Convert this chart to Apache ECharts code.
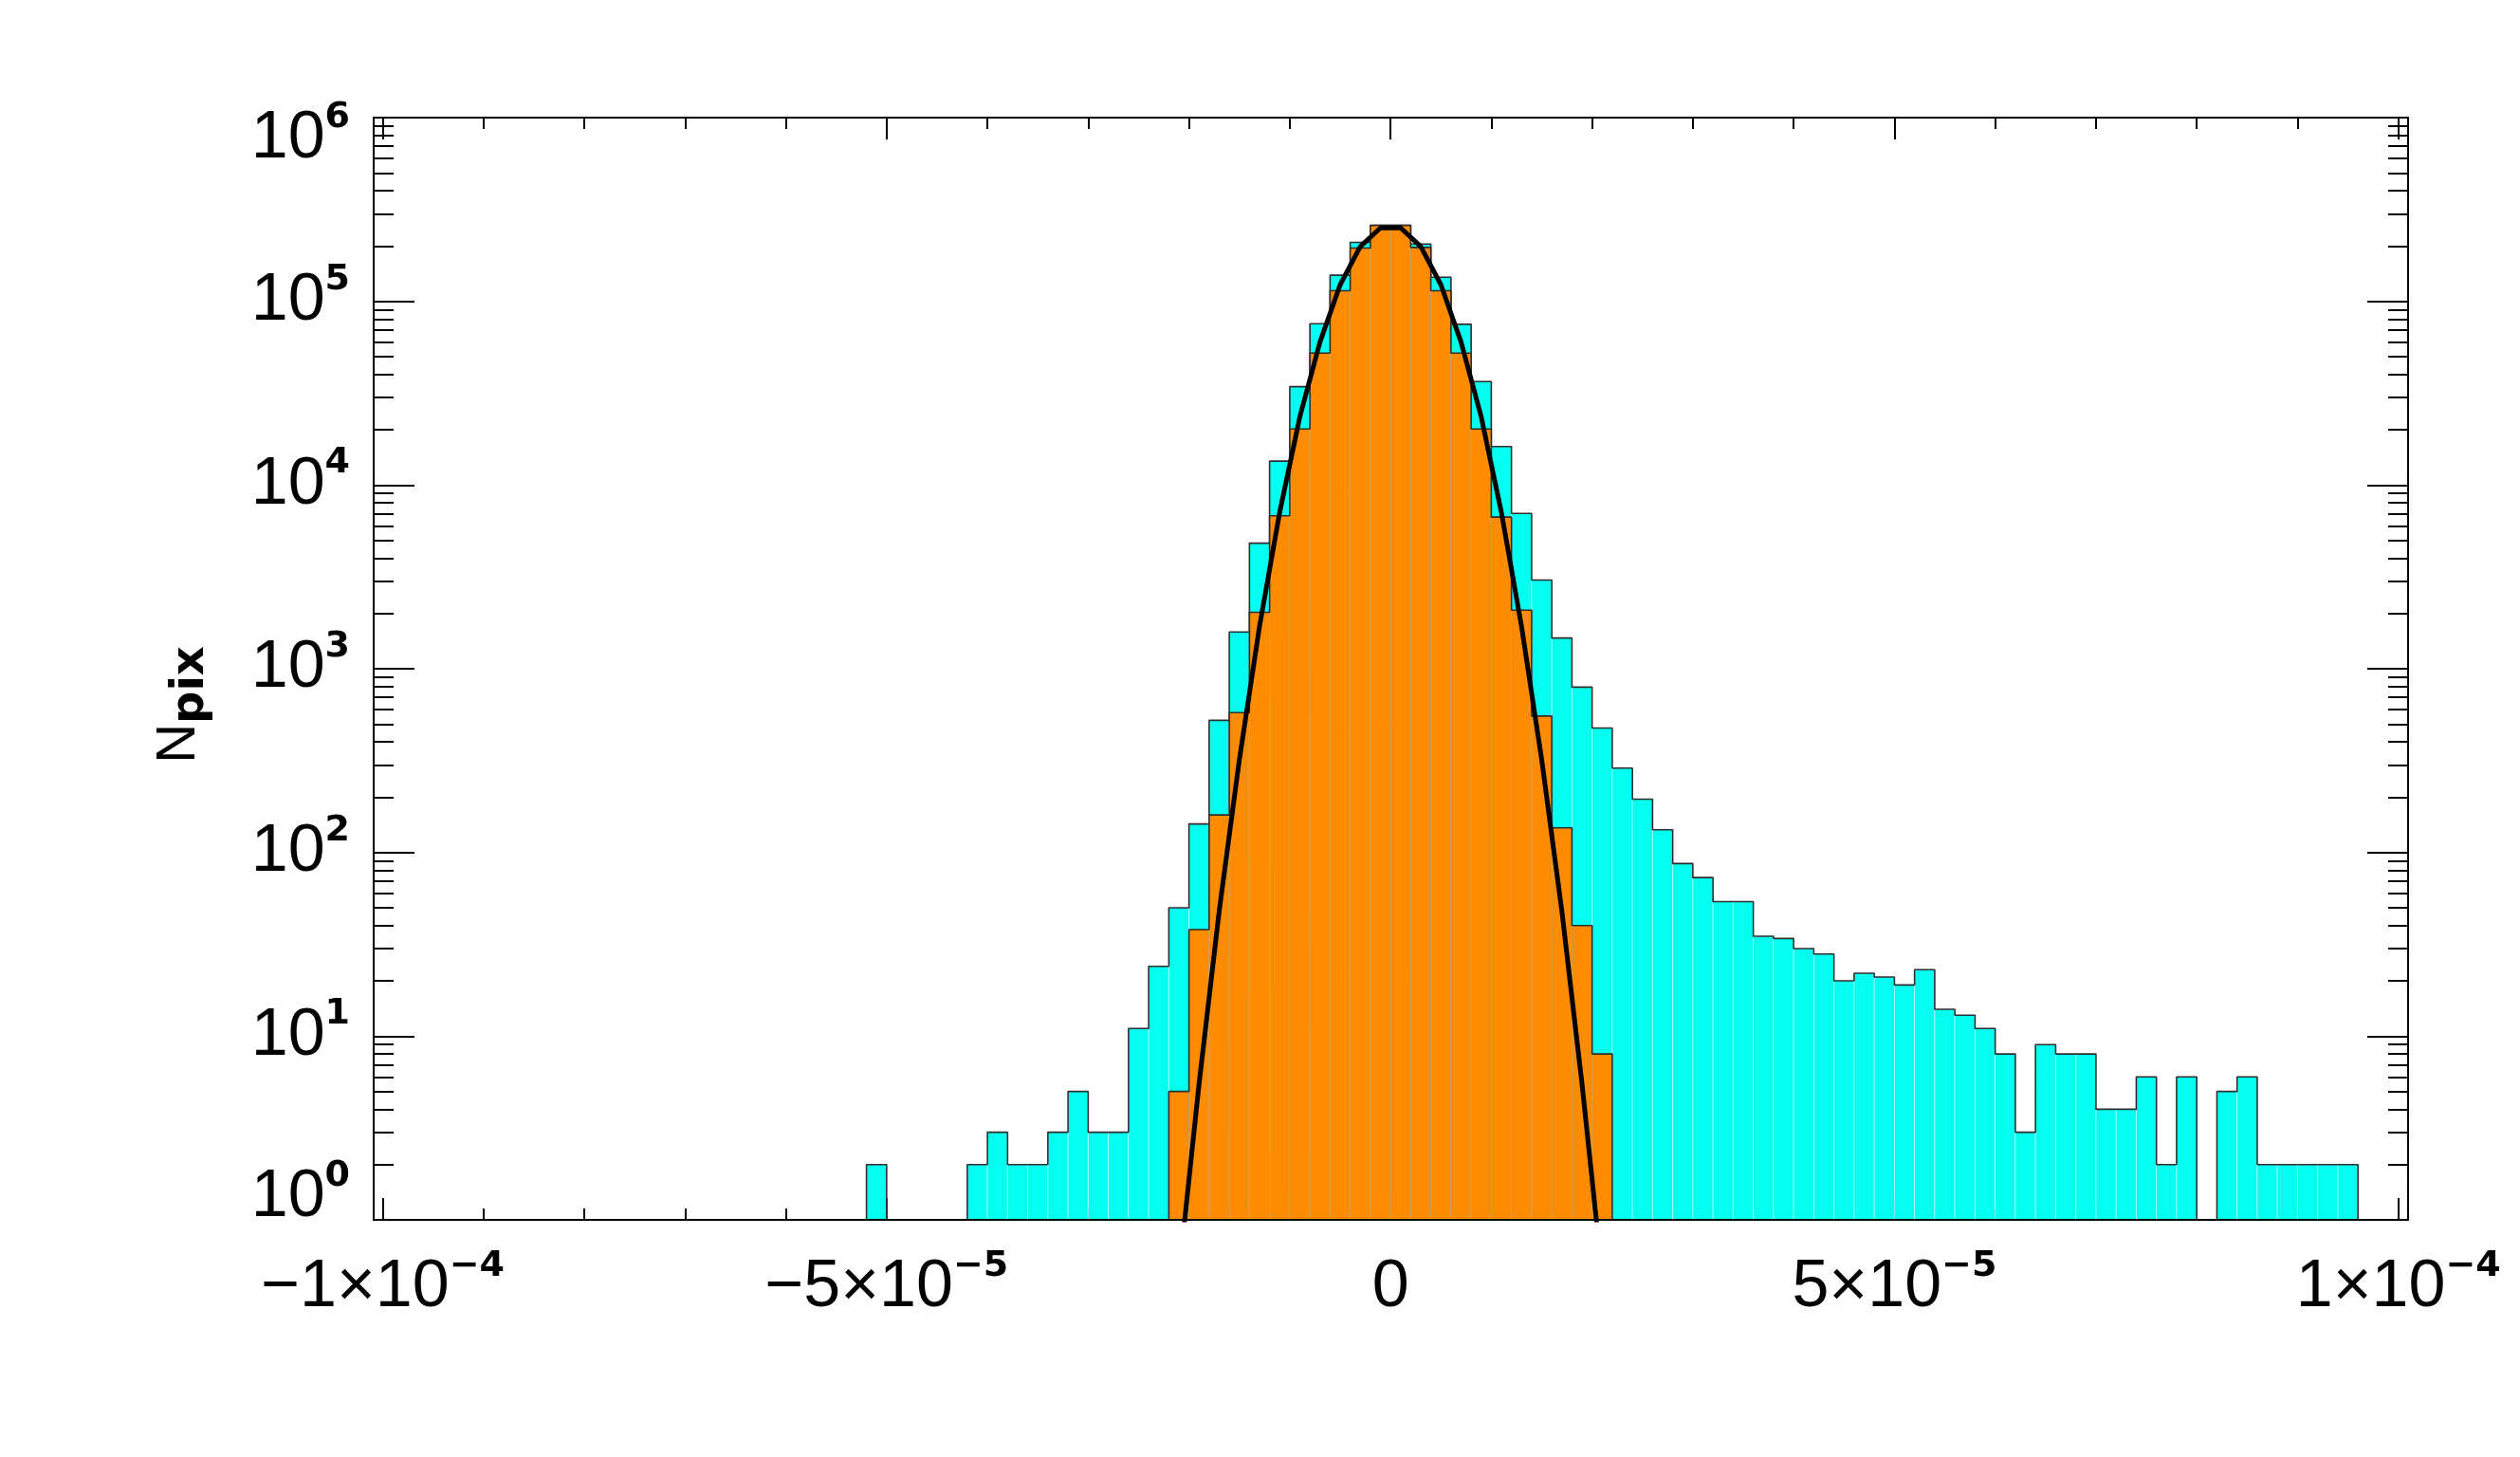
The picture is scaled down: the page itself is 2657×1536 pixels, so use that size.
<!DOCTYPE html>
<html>
<head>
<meta charset="utf-8">
<script src="https://cdn.jsdelivr.net/npm/echarts@6/dist/echarts.min.js"></script>
<style>
html, body { margin: 0; padding: 0; background: #ffffff; }
#chart { width: 2657px; height: 1536px; }
</style>
</head>
<body>
<div id="chart"></div>
<script>
// ---------------- data ----------------
const binWidth = 2e-6;

// cyan histogram: first bin starts at -5.2e-5, bins of 2e-6
const cyanStart = -5.2e-5;
const cyanCounts = [
  2, 0, 0, 0, 0, 2, 3, 2, 2, 3,
  5, 3, 3, 11, 24, 50, 143, 524, 1585, 4827,
  13490, 34300, 75500, 138700, 209300, 259000, 259000, 205000, 135300, 75000,
  36600, 16200, 7010, 3040, 1470, 794, 476, 288, 195, 133,
  87, 73, 54, 54, 35, 34, 30, 28, 20, 22,
  21, 19, 23, 14, 13, 11, 8, 3, 9, 8,
  8, 4, 4, 6, 2, 6, 0, 5, 6, 2,
  2, 2, 2, 2
];

// orange histogram: first bin starts at -2.2e-5
const orangeStart = -2.2e-5;
const orangeCounts = [
  5, 38, 160, 577, 2028, 6805, 20200, 52300, 114100, 195000,
  259000, 259000, 196500, 114100, 52300, 20200, 6690, 2083, 553, 136,
  40, 8
];

// black fitted curve, sampled at bin centres
const fitX = [-21e-6, -19e-6, -17e-6, -15e-6, -13e-6, -11e-6, -9e-6, -7e-6, -5e-6, -3e-6, -1e-6,
              1e-6, 3e-6, 5e-6, 7e-6, 9e-6, 11e-6, 13e-6, 15e-6, 17e-6, 19e-6, 21e-6];
const fitY = [0.5, 5.5, 48, 320, 1700, 7100, 23500, 60000, 123000, 199000, 251000,
              251000, 199000, 123000, 60000, 23500, 7100, 1700, 320, 48, 5.5, 0.5];

// axes
const xRange = [-1.009e-4, 1.0097e-4];
const yRange = [1, 1e6];
const xMajorTicks = [-1e-4, -5e-5, 0, 5e-5, 1e-4];
const xMinorTicks = [-9e-5, -8e-5, -7e-5, -6e-5, -4e-5, -3e-5, -2e-5, -1e-5,
                     1e-5, 2e-5, 3e-5, 4e-5, 6e-5, 7e-5, 8e-5, 9e-5];
const yDecadeExponents = [0, 1, 2, 3, 4, 5, 6];
const yTitle = ['N', 'pix'];

// ---------------- build ----------------
const FONT = "'Liberation Sans', Arial, Helvetica, sans-serif";
const SUPFONT = "'DejaVu Sans', 'Liberation Sans', sans-serif";
const CYAN = '#04FFF1';
const ORANGE = '#FF8C00';
const OUTLINE = '#2e2e2e';

// minor ticks of the log axis expressed in log10 units (helper linear axis)
const yMinorLog = [];
for (let d = yDecadeExponents[0]; d < yDecadeExponents[yDecadeExponents.length - 1]; d++) {
  for (let k = 2; k <= 9; k++) yMinorLog.push(d + Math.log10(k));
}

function histData(start, counts) {
  const out = [];
  counts.forEach(function (n, i) {
    if (n > 0) {
      const lo = start + i * binWidth;
      out.push([lo, lo + binWidth, n]);
    }
  });
  return out;
}

function outlineData(start, counts) {
  const pts = [[start, yRange[0]]];
  counts.forEach(function (n, i) {
    const lo = start + i * binWidth;
    const v = Math.max(n, yRange[0]);
    pts.push([lo, v], [lo + binWidth, v]);
  });
  pts.push([start + counts.length * binWidth, yRange[0]]);
  return pts;
}

function makeRender(fill, seam) {
  return function (params, api) {
    const lo = api.value(0), hi = api.value(1), n = api.value(2);
    const p0 = api.coord([lo, n]);
    const p1 = api.coord([hi, yRange[0]]);
    return {
      type: 'rect',
      shape: { x: p0[0], y: p0[1], width: p1[0] - p0[0], height: p1[1] - p0[1] },
      style: { fill: fill, stroke: seam, lineWidth: 1 }
    };
  };
}

function fmtX(v) {
  if (Math.abs(v) < 1e-12) return '{m|0}';
  const exp = Math.floor(Math.log10(Math.abs(v)) + 1e-9);
  const mant = Math.round(v / Math.pow(10, exp));
  return '{m|' + (mant < 0 ? '\u2212' : '') + Math.abs(mant) + '\u00d710}{e|\u2212' + Math.abs(exp) + '}';
}
// end labels of the y axis sit inside the axis range, as in the reference
function fmtY(v) {
  const exp = Math.round(Math.log10(v));
  const lo = Math.round(Math.log10(yRange[0])), hi = Math.round(Math.log10(yRange[1]));
  const lab = '{b|10}{e|' + exp + '}';
  if (exp === lo) return lab + '\n{g| }';
  if (exp === hi) return '{g| }\n' + lab;
  return lab;
}

const MAIN = { fontFamily: FONT, fontSize: 70, lineHeight: 84, color: '#000' };
const SUP = { fontFamily: SUPFONT, fontSize: 38, fontWeight: 'bold', lineHeight: 40, color: '#000' };
const supRich = {
  m: Object.assign({}, MAIN, { verticalAlign: 'middle' }),
  b: Object.assign({}, MAIN, { verticalAlign: 'middle' }),
  e: Object.assign({}, SUP, { verticalAlign: 'top' }),
  g: { fontSize: 10, lineHeight: 46 }
};

const lineStyle = { color: '#000', width: 2 };
const tickStyle = { color: '#000', width: 2 };

function xAxisBase(pos) {
  return {
    type: 'value', min: xRange[0], max: xRange[1], position: pos,
    axisLine: { show: false, onZero: false },
    axisTick: { show: false },
    axisLabel: { show: false },
    splitLine: { show: false }
  };
}
function yHelperBase(pos) {
  return {
    type: 'value', min: Math.log10(yRange[0]), max: Math.log10(yRange[1]), position: pos,
    axisLine: { show: false, onZero: false },
    axisTick: { show: true, inside: true, length: 21, customValues: yMinorLog, lineStyle: tickStyle },
    axisLabel: { show: false },
    splitLine: { show: false }
  };
}

const xAxes = [];
// 0: bottom frame line (data axis), drawn above bars
xAxes.push(Object.assign(xAxisBase('bottom'), {
  axisLine: { show: true, onZero: false, lineStyle: lineStyle }, z: 10
}));
// 1: bottom major ticks + labels
xAxes.push(Object.assign(xAxisBase('bottom'), {
  axisTick: { show: true, inside: true, length: 23, customValues: xMajorTicks, lineStyle: tickStyle },
  axisLabel: { show: true, customValues: xMajorTicks, formatter: fmtX, rich: supRich, margin: 30,
               showMinLabel: true, showMaxLabel: true }
}));
// 2: bottom minor ticks
xAxes.push(Object.assign(xAxisBase('bottom'), {
  axisTick: { show: true, inside: true, length: 12, customValues: xMinorTicks, lineStyle: tickStyle }
}));
// 3: top frame line + major ticks
xAxes.push(Object.assign(xAxisBase('top'), {
  axisLine: { show: true, onZero: false, lineStyle: lineStyle },
  axisTick: { show: true, inside: true, length: 23, customValues: xMajorTicks, lineStyle: tickStyle }
}));
// 4: top minor ticks
xAxes.push(Object.assign(xAxisBase('top'), {
  axisTick: { show: true, inside: true, length: 12, customValues: xMinorTicks, lineStyle: tickStyle }
}));

const yAxes = [
  {
    type: 'log', logBase: 10, min: yRange[0], max: yRange[1], position: 'left',
    axisLine: { show: true, onZero: false, lineStyle: lineStyle },
    axisTick: { show: true, inside: true, length: 43, lineStyle: tickStyle },
    minorTick: { show: false },
    axisLabel: { show: true, formatter: fmtY, rich: supRich, margin: 25, showMinLabel: true, showMaxLabel: true },
    splitLine: { show: false },
    name: '{n|' + yTitle[0] + '}{s|' + yTitle[1] + '}',
    nameLocation: 'middle',
    nameRotate: 90,
    nameGap: 168,
    nameTextStyle: {
      padding: [0, 76, 0, 0],
      rich: {
        n: { fontFamily: FONT, fontSize: 58, lineHeight: 58, padding: [0, 0, 8, 0], color: '#000', verticalAlign: 'bottom' },
        s: { fontFamily: SUPFONT, fontSize: 48, fontWeight: 'bold', lineHeight: 48, color: '#000', verticalAlign: 'bottom' }
      }
    }
  },
  {
    type: 'log', logBase: 10, min: yRange[0], max: yRange[1], position: 'right',
    axisLine: { show: true, onZero: false, lineStyle: lineStyle },
    axisTick: { show: true, inside: true, length: 43, lineStyle: tickStyle },
    minorTick: { show: false },
    axisLabel: { show: false },
    splitLine: { show: false }
  },
  yHelperBase('left'),
  yHelperBase('right')
];

const option = {
  animation: false,
  backgroundColor: '#ffffff',
  grid: { left: 394, top: 124, width: 2145, height: 1162, outerBoundsMode: 'none', containLabel: false },
  xAxis: xAxes,
  yAxis: yAxes,
  series: [
    {
      type: 'custom', xAxisIndex: 0, yAxisIndex: 0, z: 2, silent: true, clip: true,
      data: histData(cyanStart, cyanCounts),
      encode: { x: [0, 1], y: 2 },
      renderItem: makeRender(CYAN, 'rgba(255,255,255,0.45)')
    },
    {
      type: 'line', xAxisIndex: 0, yAxisIndex: 0, z: 3, silent: true, symbol: 'none',
      data: outlineData(cyanStart, cyanCounts),
      lineStyle: { color: OUTLINE, width: 1.6 }
    },
    {
      type: 'custom', xAxisIndex: 0, yAxisIndex: 0, z: 4, silent: true, clip: true,
      data: histData(orangeStart, orangeCounts),
      encode: { x: [0, 1], y: 2 },
      renderItem: makeRender(ORANGE, 'rgba(190,165,110,0.7)')
    },
    {
      type: 'line', xAxisIndex: 0, yAxisIndex: 0, z: 5, silent: true, symbol: 'none',
      data: outlineData(orangeStart, orangeCounts),
      lineStyle: { color: OUTLINE, width: 1.6 }
    },
    {
      type: 'line', xAxisIndex: 0, yAxisIndex: 0, z: 6, silent: true, symbol: 'none', clip: true,
      data: fitX.map(function (x, i) { return [x, fitY[i]]; }),
      lineStyle: { color: '#000', width: 5, join: 'round' }
    }
  ]
};

const chart = echarts.init(document.getElementById('chart'), null, { renderer: 'canvas' });
chart.setOption(option);
</script>
</body>
</html>
